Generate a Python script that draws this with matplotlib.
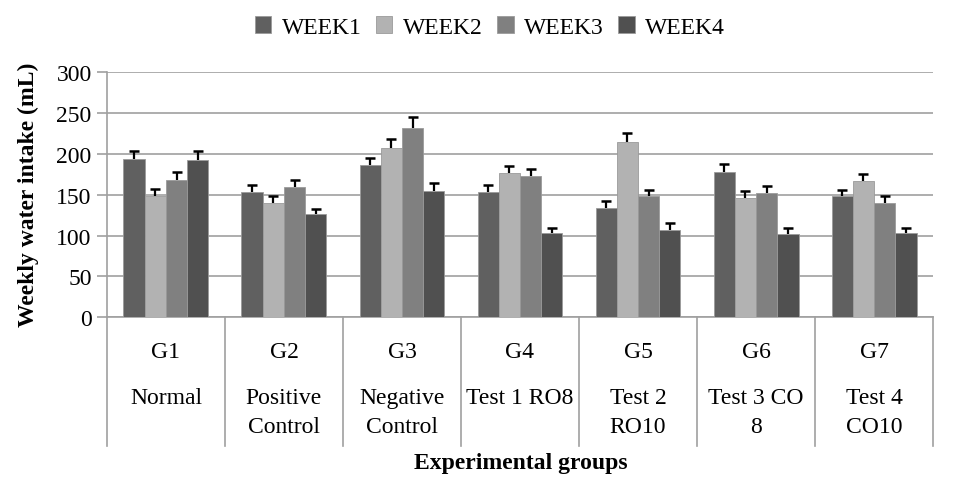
import numpy as np
import matplotlib
matplotlib.use('Agg')
import matplotlib.pyplot as plt
from matplotlib.patches import Patch

# values (mL per week)
groups = ['G1', 'G2', 'G3', 'G4', 'G5', 'G6', 'G7']
group_names = ['Normal', 'Positive\nControl', 'Negative\nControl', 'Test 1 RO8',
               'Test 2\nRO10', 'Test 3 CO\n8', 'Test 4\nCO10']
weeks = ['WEEK1', 'WEEK2', 'WEEK3', 'WEEK4']

week1 = [194, 153, 186, 153, 134, 178, 149]
week2 = [149, 140, 207, 176, 215, 146, 167]
week3 = [168, 159, 232, 173, 149, 152, 140]
week4 = [192, 126, 155, 103, 107, 102, 103]

err1 = [9, 9, 9, 9, 8, 9, 7]
err2 = [8, 8, 11, 9, 11, 8, 8]
err3 = [10, 9, 13, 9, 7, 9, 8]
err4 = [11, 6, 9, 6, 8, 7, 6]

colors = ['#606060', '#b2b2b2', '#808080', '#505050']

plt.rcParams['font.family'] = ['Liberation Serif', 'DejaVu Serif']
plt.rcParams['font.size'] = 17

fig = plt.figure(figsize=(9.55, 4.85), dpi=100)
ax = fig.add_axes([0.112, 0.344, 0.865, 0.505])

x = np.arange(len(groups))
width = 0.18
series = [week1, week2, week3, week4]
errors = [err1, err2, err3, err4]
for i, (vals, errs) in enumerate(zip(series, errors)):
    pos = x + (i - 1.5) * width
    ax.bar(pos, vals, width, color=colors[i], edgecolor='#9a9a9a',
           linewidth=0.6, zorder=3)
    eb = ax.errorbar(pos, vals, yerr=[np.zeros(len(errs)), errs], fmt='none',
                     ecolor='black', elinewidth=1.6, capsize=3.5, capthick=1.8,
                     zorder=4)
    # only the upper cap, like the original
    eb[1][0].set_visible(False)

ax.set_xlim(-0.5, len(groups) - 0.5)
ax.set_ylim(0, 300)
ax.set_yticks(range(0, 301, 50))
ax.yaxis.grid(True, color='#a0a0a0', linewidth=1.2, zorder=0)
ax.set_axisbelow(True)
for s in ['top', 'right']:
    ax.spines[s].set_visible(False)
for s in ['left', 'bottom']:
    ax.spines[s].set_color('#a0a0a0')
    ax.spines[s].set_linewidth(1.2)
ax.tick_params(axis='y', length=7, color='#a0a0a0', width=1.2, pad=4)
ax.set_xticks([])

# two-level category axis
trans = ax.get_xaxis_transform()
for k in range(len(groups) + 1):
    ax.plot([k - 0.5, k - 0.5], [0, -0.527], transform=trans, color='#a0a0a0',
            linewidth=1.2, clip_on=False)
for k in range(len(groups)):
    ax.text(x[k], -0.142, groups[k], transform=trans, ha='center', va='center')
    ax.text(x[k], -0.285, group_names[k], transform=trans, ha='center',
            va='top', linespacing=1.5)

fig.text(0.545, 0.045, 'Experimental groups', ha='center', va='center',
         fontweight='bold')
fig.text(0.03, 0.598, 'Weekly water intake (mL)', ha='center', va='center',
         rotation=90, fontweight='bold')

handles = [Patch(facecolor=c, edgecolor='#9a9a9a', linewidth=0.6) for c in colors]
fig.legend(handles, weeks, loc='center', bbox_to_anchor=(0.513, 0.942), ncol=4,
           frameon=False, handlelength=0.7, handleheight=0.7,
           handletextpad=0.45, columnspacing=0.6)

fig.savefig('out.png', dpi=100)
